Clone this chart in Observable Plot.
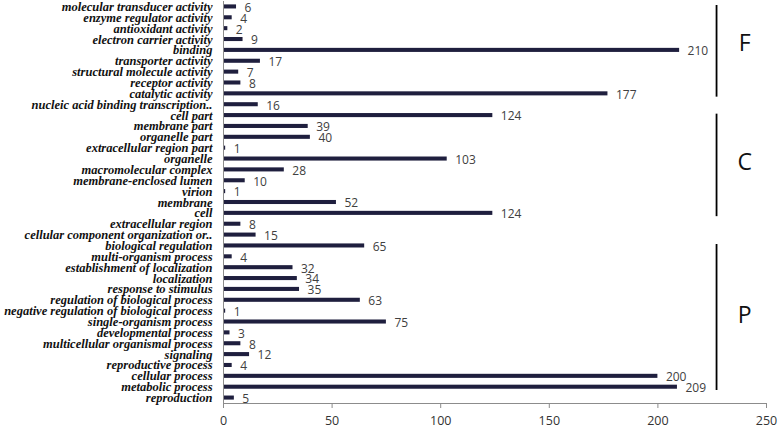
<!DOCTYPE html>
<html>
<head>
<meta charset="utf-8">
<script src="https://cdn.jsdelivr.net/npm/d3@7"></script>
<script src="https://cdn.jsdelivr.net/npm/@observablehq/plot@0.6"></script>
<style>
  html, body { margin: 0; padding: 0; background: #ffffff; }
  #chart svg { display: block; }
</style>
</head>
<body>
<div id="chart"></div>
<script>
// Categories, top to bottom
const categories = [
  "molecular transducer activity",
  "enzyme regulator activity",
  "antioxidant activity",
  "electron carrier activity",
  "binding",
  "transporter activity",
  "structural molecule activity",
  "receptor activity",
  "catalytic activity",
  "nucleic acid binding transcription..",
  "cell part",
  "membrane part",
  "organelle part",
  "extracellular region part",
  "organelle",
  "macromolecular complex",
  "membrane-enclosed lumen",
  "virion",
  "membrane",
  "cell",
  "extracellular region",
  "cellular component organization or..",
  "biological regulation",
  "multi-organism process",
  "establishment of localization",
  "localization",
  "response to stimulus",
  "regulation of biological process",
  "negative regulation of biological process",
  "single-organism process",
  "developmental process",
  "multicellular organismal process",
  "signaling",
  "reproductive process",
  "cellular process",
  "metabolic process",
  "reproduction"
];
const counts = [6, 4, 2, 9, 210, 17, 7, 8, 177, 16, 124, 39, 40, 1, 103, 28, 10, 1, 52, 124, 8, 15, 65, 4, 32, 34, 35, 63, 1, 75, 3, 8, 12, 4, 200, 209, 5];

// Ontology groups (brackets on the right)
const groupNames = ["F", "C", "P"];
const groupFirst = ["molecular transducer activity", "cell part", "biological regulation"];
const groupLast = ["nucleic acid binding transcription..", "extracellular region", "reproduction"];
const groupMid = ["electron carrier activity", "organelle", "negative regulation of biological process"];

const xTicks = [0, 50, 100, 150, 200, 250];

const rows = categories.map((c, i) => ({category: c, value: counts[i]}));
const groups = groupNames.map((g, i) => ({name: g, first: groupFirst[i], last: groupLast[i], mid: groupMid[i]}));

const bracketX = 227;
const letterX = 240;

const chart = Plot.plot({
  width: 778,
  height: 428,
  marginLeft: 223,
  marginRight: 12,
  marginTop: 1,
  marginBottom: 25,
  style: {background: "#ffffff"},
  x: {domain: [0, 250], ticks: xTicks},
  y: {domain: categories, padding: 0, align: 0.5},
  marks: [
    Plot.barX(rows, {x: "value", y: "category", fill: "#1f1f3e", insetTop: 3.4, insetBottom: 3.4}),
    Plot.text(rows, {x: "value", y: "category", text: d => String(d.value), textAnchor: "start", dx: 8, dy: 1,
      fill: "#404040", fontSize: 12, fontFamily: "Open Sans"}),
    Plot.frame({anchor: "bottom", stroke: "#8c8c8c"}),
    Plot.frame({anchor: "left", stroke: "#8c8c8c"}),
    Plot.axisX({ticks: xTicks, tickSize: 5, tickPadding: 8, stroke: "#8c8c8c", fill: "#333333",
      fontSize: 12.5, fontFamily: "Open Sans", label: null, tickFormat: d => String(d)}),
    Plot.axisY({tickSize: 0, tickPadding: 11, fill: "#111111", fontSize: 12.5,
      fontFamily: "Liberation Serif", fontStyle: "italic", fontWeight: "bold", label: null}),
    Plot.ruleX(groups, {x: () => bracketX, y1: "first", y2: "last", stroke: "#000000", strokeWidth: 1.8,
      insetTop: 4, insetBottom: 13}),
    Plot.text(groups, {x: () => letterX, y: "mid", text: "name", dy: 4, fontSize: 23,
      fontFamily: "Open Sans", fill: "#111111"})
  ]
});

document.getElementById("chart").appendChild(chart);
</script>
</body>
</html>
